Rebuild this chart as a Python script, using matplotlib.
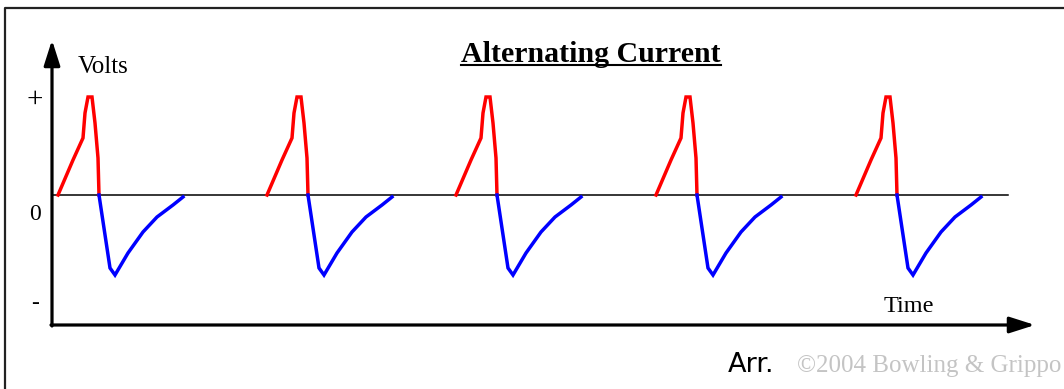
import matplotlib
matplotlib.use("Agg")
import matplotlib.pyplot as plt

# one cycle of the wave: time offset from cycle start, volts (+1 = "+" mark)
rise_t = [0, 15, 25, 27, 30, 34, 37, 40, 41]
rise_v = [0, 0.35, 0.57, 0.82, 0.98, 0.98, 0.72, 0.37, 0]
fall_t = [41, 52, 57, 70, 85, 99, 115, 125]
fall_v = [0, -0.73, -0.80, -0.58, -0.37, -0.22, -0.10, -0.02]

# where each of the five cycles starts on the time axis
cycle_starts = [58, 267, 456, 656, 856]

tick_labels = ["+", "0", "-"]
tick_volts = [0.95, -0.20, -1.09]

W, H = 1064, 389
ZERO_Y, SCALE = 195, 100   # pixel row of 0 volts, pixels per volt


def yv(py):
    # pixel row -> volts, for the decorations
    return (ZERO_Y - py) / SCALE


fig = plt.figure(figsize=(W / 100, H / 100), dpi=100)
ax = fig.add_axes([0, 0, 1, 1])
ax.set_xlim(0, W)
ax.set_ylim(yv(H), yv(0))
ax.axis("off")

serif = ["Liberation Serif", "DejaVu Serif"]

# frame (top and left only)
ax.plot([5, 5, W], [yv(H), yv(8), yv(8)], color="#222222", lw=1.6,
        solid_capstyle="butt", clip_on=False)

# zero line
ax.plot([52, 1008], [0, 0], color="black", lw=1.1)

# waves
for s in cycle_starts:
    ax.plot([s + t for t in rise_t], rise_v, color="#ff0000", lw=2.5,
            solid_joinstyle="miter")
    ax.plot([s + t for t in fall_t], fall_v, color="#0000ff", lw=2.5,
            solid_joinstyle="miter")

# axes with arrows
arrow = dict(arrowstyle="-|>,head_length=1.1,head_width=0.35",
             color="black", lw=2.3, mutation_scale=14, shrinkA=0, shrinkB=0)
ax.annotate("", xy=(52, yv(40)), xytext=(52, yv(326)), arrowprops=arrow)
ax.annotate("", xy=(1035, yv(325)), xytext=(51, yv(325)), arrowprops=arrow)

for lab, v, fs in zip(tick_labels, tick_volts, [21, 17, 17]):
    ax.text(35, v, lab, family=serif, fontsize=fs, ha="center", va="center")

ax.text(78, yv(73), "Volts", family=serif, fontsize=18, ha="left",
        va="baseline")
ax.text(884, yv(312), "Time", family=serif, fontsize=17.5, ha="left",
        va="baseline")

title = ax.text(591, yv(62), "Alternating Current", family=serif,
                fontsize=21.5, fontweight="bold", ha="center", va="baseline")

ax.text(728, yv(372), "Arr.", family=["DejaVu Sans"], fontsize=19.5,
        ha="left", va="baseline")
ax.text(797, yv(372), "\u00a92004 Bowling & Grippo", family=serif,
        fontsize=18, color="#c4c4c4", ha="left", va="baseline")

# underline the title
fig.canvas.draw()
bb = title.get_window_extent().transformed(ax.transData.inverted())
ax.plot([bb.x0, bb.x1], [yv(65), yv(65)], color="black", lw=1.5)

fig.savefig("out.png", dpi=100)
